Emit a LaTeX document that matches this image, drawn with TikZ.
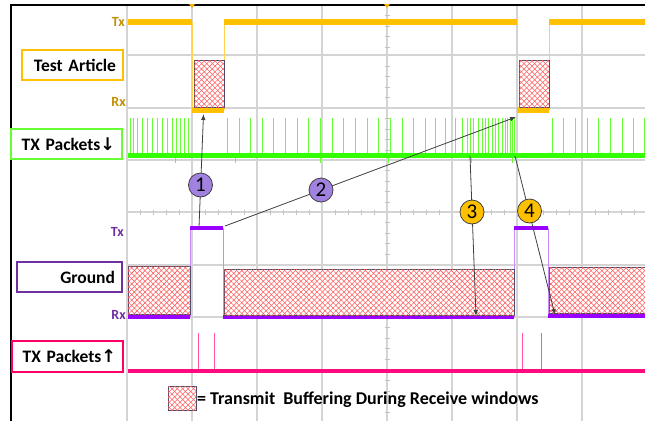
\documentclass[tikz,border=0pt]{standalone}
\usepackage{fontspec}
\setmainfont{Carlito}
\newfontfamily\arrowfont{DejaVu Sans}
\usetikzlibrary{patterns.meta,arrows.meta}
\definecolor{cyel}{HTML}{FFC000}
\definecolor{cylab}{HTML}{BF9000}
\definecolor{cgrn}{HTML}{33FF00}
\definecolor{cgrnsp}{HTML}{66FF33}
\definecolor{cpur}{HTML}{9900FF}
\definecolor{cpurlt}{HTML}{CC88FF}
\definecolor{cpurlab}{HTML}{7030A0}
\definecolor{cpink}{HTML}{FF0A80}
\definecolor{cpinkbox}{HTML}{FF0066}
\definecolor{clav}{HTML}{A282E0}
\definecolor{cgrid}{HTML}{D4D4D4}
\definecolor{cedge}{HTML}{4A4A6A}
\definecolor{carr}{HTML}{404040}
\definecolor{chatch}{HTML}{FF5A5A}
\begin{document}
\begin{tikzpicture}[x=1pt,y=-1pt,
  gridline/.style={cgrid, line width=1.3pt},
  tickline/.style={cgrid!80!gray, line width=0.8pt},
  hatch/.style={draw=cedge, line width=0.7pt, fill=white,
    postaction={pattern={Lines[angle=45,distance=3.8pt,line width=0.55pt]}, pattern color=chatch},
    postaction={pattern={Lines[angle=-45,distance=3.8pt,line width=0.55pt]}, pattern color=chatch}},
  labbox/.style={draw, line width=2pt, fill=white, minimum height=30pt, inner xsep=7pt, inner ysep=0pt,
    align=right, font=\fontsize{17.5}{20}\selectfont\bfseries},
  tlab/.style={inner sep=0pt, font=\fontsize{14}{16}\selectfont\bfseries},
  circ/.style={circle, draw=carr, line width=0.8pt, minimum size=24pt, inner sep=0pt, font=\fontsize{21}{21}\selectfont},
  arr/.style={carr, line width=0.8pt, -{Latex[length=6pt,width=4.5pt]}},
  ytr/.style={cyel, line width=5.5pt},
  ytrv/.style={cyel!70, line width=1pt},
  ptr/.style={cpur, line width=4.5pt},
  ptrv/.style={cpurlt, line width=1pt},
  gsp/.style={cgrnsp, line width=0.8pt},
  psp/.style={cpink!70, line width=0.8pt}
]
\useasboundingbox (0,0) rectangle (645,421);
\fill[white] (0,0) rectangle (645,421);

% grid
\foreach \gx in {127,192,257,322,387,452,517,582,647}
  \draw[gridline] (\gx,5) -- (\gx,421);
\foreach \gy in {55,108,160,212,265,317,370}
  \draw[gridline] (127,\gy) -- (645,\gy);
% minor ticks
\foreach \ty in {15.5,26,36.5,47,66,76.5,87,97.5,118.5,129,139.5,150,170.5,181,191.5,202,222.5,233,243.5,254,275.5,286,296.5,307,327.5,338,348.5,359,380.5,391,401.5,412}
  \draw[tickline] (384.5,\ty) -- (389.5,\ty);
\foreach \tx in {140,153,166,179,205,218,231,244,270,283,296,309,335,348,361,374,400,413,426,439,465,478,491,504,530,543,556,569,595,608,621,634}
  \draw[tickline] (\tx,209.5) -- (\tx,214.5);

% frame
\draw[black, line width=2.5pt] (11,5) -- (645,5);
\draw[black, line width=2.5pt] (11,4) -- (11,421);
\fill[cyel!80!orange] (189,4) -- (195,4) -- (192,8) -- cycle;
\fill[cyel!80!orange] (384,4) -- (390,4) -- (387,8) -- cycle;

% Test article trace (yellow)
\draw[ytrv] (192,22) -- (192,110);
\draw[ytrv] (224,22) -- (224,110);
\draw[ytrv] (517,22) -- (517,110);
\draw[ytrv] (549,22) -- (549,110);
\draw[ytr] (128,22) -- (192,22);
\draw[ytr] (224,22) -- (517,22);
\draw[ytr] (549,22) -- (645,22);
\draw[ytr] (192,110) -- (224,110);
\draw[ytr] (517,110) -- (549,110);
\draw[hatch] (194,60) rectangle (224,107);
\draw[hatch] (519,60) rectangle (549,107.5);

% TX packets down (green)
\foreach \sx in {130,133,137,142,147,152,157,162,167,172,176,180,184,188,
  227,239,250,262,273,285,297,308,320,332,343,355,367,378,390,402,413,425,435,445,455,462,467,470,473,478,482,485,488,492,495,498,502,505,507,510,512,514,
  552,563,575,587,598,610,622,633,644}
  \draw[gsp] (\sx,155) -- (\sx,118);
\foreach \dx in {175,235,320,388,471,512}
  \draw[gsp] (\dx,155) -- (\dx,163);
\draw[cgrn, line width=5pt] (128,155.5) -- (645,155.5);

% Ground trace (purple)
\draw[ptrv] (190,228) -- (190,317);
\draw[ptrv] (223,228) -- (223,317);
\draw[ptrv] (514,228) -- (514,317);
\draw[ptrv] (548,228) -- (548,317);
\draw[ptr] (128,317) -- (190,317);
\draw[ptr] (190,228) -- (223,228);
\draw[ptr] (223,317) -- (514,317);
\draw[ptr] (514,228) -- (548,228);
\draw[ptr] (548,316) -- (645,316);
\draw[hatch] (128,266) rectangle (190,314.5);
\draw[hatch] (224,269) rectangle (514,315);
\draw[hatch] (549,267) rectangle (645,313.5);

% TX packets up (pink)
\foreach \sx in {198,214,522,541}
  \draw[psp] (\sx,371) -- (\sx,333);
\draw[cpink, line width=4.5pt] (128,371) -- (645,371);

% channel labels
\node[labbox, draw=cyel, text width=87pt, anchor=north east] (ta) at (124,49) {Test Article};
\node[labbox, draw=cgrnsp, text width=97pt, anchor=north east] (txd) at (123,128) {TX Packets{\arrowfont ↓}};
\node[labbox, draw=cpurlab, text width=91pt, anchor=north east] (gnd) at (123,261) {Ground};
\node[labbox, draw=cpinkbox, text width=97pt, minimum height=31pt, anchor=north east] (txu) at (124,340) {TX Packets{\arrowfont ↑}};

\node[tlab, text=cylab, anchor=east] (ytx) at (125,22) {Tx};
\node[tlab, text=cylab, anchor=east] (yrx) at (126,101.5) {Rx};
\node[tlab, text=cpurlab, anchor=east] (ptx) at (124,232) {Tx};
\node[tlab, text=cpurlab, anchor=east] (prx) at (126,314.5) {Rx};

% arrows
\coordinate (a1s) at (199,227);
\coordinate (a1e) at (203.5,114);
\coordinate (a2s) at (225,226);
\coordinate (a2e) at (516,117);
\coordinate (a3s) at (470,156);
\coordinate (a3e) at (476,316);
\coordinate (a4s) at (515,156);
\coordinate (a4e) at (555,315);
\draw[arr] (a1s) -- (a1e);
\draw[arr] (a2s) -- (a2e);
\draw[arr] (a3s) -- (a3e);
\draw[arr] (a4s) -- (a4e);
\node[circ, fill=clav] (c1) at (200.5,185) {1};
\node[circ, fill=clav] (c2) at (321,190) {2};
\node[circ, fill=cyel] (c3) at (472,212) {3};
\node[circ, fill=cyel] (c4) at (529.5,211) {4};

% legend
\draw[hatch] (168,386) rectangle (196,410.5);
\node[anchor=west, inner sep=0pt, font=\fontsize{18}{20}\selectfont\bfseries] (leg) at (197,399.5) {= Transmit\ \ Buffering During Receive windows};
\end{tikzpicture}
\end{document}
